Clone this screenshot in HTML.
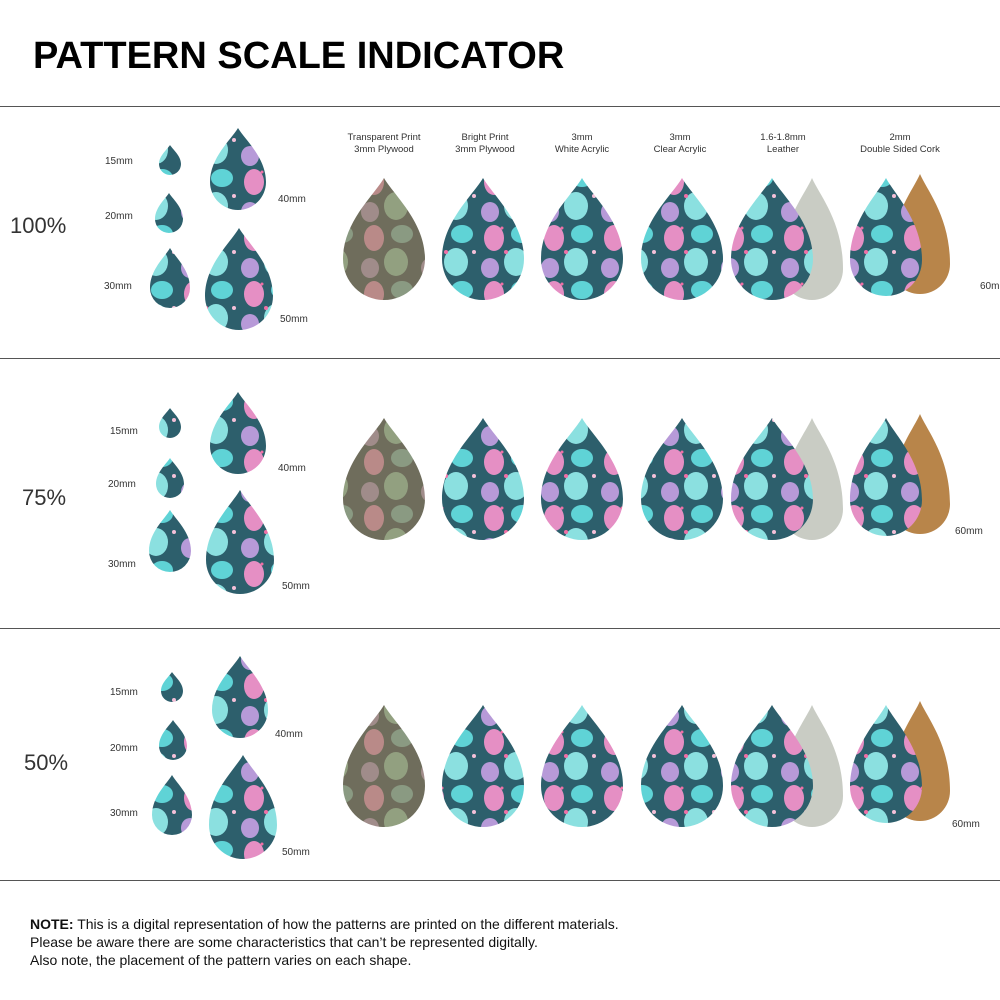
<!DOCTYPE html>
<html><head><meta charset="utf-8"><style>
body{margin:0;background:#fff;}
svg{display:block;font-family:"Liberation Sans",sans-serif;}
</style></head><body>
<svg id="s" width="1000" height="1000" viewBox="0 0 1000 1000" xmlns="http://www.w3.org/2000/svg">
<defs>
<pattern id="eg" patternUnits="userSpaceOnUse" width="60" height="56">
<rect width="60" height="56" fill="#2d5f6c"/>
<ellipse cx="14" cy="14" rx="10" ry="13" fill="#e58fc4"/>
<ellipse cx="42" cy="10" rx="11" ry="9" fill="#5fd3d6"/>
<ellipse cx="36" cy="38" rx="12" ry="14" fill="#8be0e0"/>
<ellipse cx="10" cy="44" rx="9" ry="10" fill="#b79ad8"/>
<circle cx="26" cy="28" r="2" fill="#f06fa6"/><circle cx="54" cy="28" r="2" fill="#f4c0d8"/>
<circle cx="22" cy="4" r="1.5" fill="#f06fa6"/>
</pattern>
<pattern id="wd" patternUnits="userSpaceOnUse" width="60" height="56">
<rect width="60" height="56" fill="#6f6d5c"/>
<ellipse cx="14" cy="14" rx="10" ry="13" fill="#b98a88"/>
<ellipse cx="42" cy="10" rx="11" ry="9" fill="#8a9a82"/>
<ellipse cx="36" cy="38" rx="12" ry="14" fill="#92a080"/>
<ellipse cx="10" cy="44" rx="9" ry="10" fill="#a08c8a"/>
</pattern>
</defs>
<text x="33" y="68" font-size="38" font-weight="bold" fill="#000">PATTERN SCALE INDICATOR</text>
<g stroke="#555" stroke-width="1">
<line x1="0" y1="106.5" x2="1000" y2="106.5"/><line x1="0" y1="358.5" x2="1000" y2="358.5"/>
<line x1="0" y1="628.5" x2="1000" y2="628.5"/><line x1="0" y1="880.5" x2="1000" y2="880.5"/>
</g>
<g font-size="22" fill="#333">
<text x="10" y="233">100%</text><text x="22" y="505">75%</text><text x="24" y="770">50%</text>
</g>
<g font-size="9.5" fill="#333" text-anchor="middle">
<text x="384" y="140">Transparent Print</text><text x="384" y="152">3mm Plywood</text>
<text x="485" y="140">Bright Print</text><text x="485" y="152">3mm Plywood</text>
<text x="582" y="140">3mm</text><text x="582" y="152">White Acrylic</text>
<text x="680" y="140">3mm</text><text x="680" y="152">Clear Acrylic</text>
<text x="783" y="140">1.6-1.8mm</text><text x="783" y="152">Leather</text>
<text x="900" y="140">2mm</text><text x="900" y="152">Double Sided Cork</text>
</g>
<g id="d"></g>
<g font-size="10" fill="#333">
<text x="105" y="164">15mm</text><text x="105" y="219">20mm</text><text x="104" y="289">30mm</text>
<text x="278" y="202">40mm</text><text x="280" y="322">50mm</text><text x="980" y="289">60mm</text>
<text x="110" y="434">15mm</text><text x="108" y="487">20mm</text><text x="108" y="567">30mm</text>
<text x="278" y="471">40mm</text><text x="282" y="589">50mm</text><text x="955" y="534">60mm</text>
<text x="110" y="695">15mm</text><text x="110" y="751">20mm</text><text x="110" y="816">30mm</text>
<text x="275" y="737">40mm</text><text x="282" y="855">50mm</text><text x="952" y="827">60mm</text>
</g>
<g font-size="14" fill="#111">
<text x="30" y="929"><tspan font-weight="bold">NOTE:</tspan> This is a digital representation of how the patterns are printed on the different materials.</text>
<text x="30" y="947">Please be aware there are some characteristics that can’t be represented digitally.</text>
<text x="30" y="965">Also note, the placement of the pattern varies on each shape.</text>
</g>
</svg>
<script>
var g=document.getElementById('d'),h='';
function drop(cx,top,w,hh,fill){
 var x=cx-w/2,r=w/2,by=top+hh-r;
 h+='<path d="M'+cx+' '+top+' C'+(cx+w*0.12)+' '+(top+hh*0.14)+' '+(x+w)+' '+(top+hh*0.36)+' '+(x+w)+' '+by+' A'+r+' '+r+' 0 0 1 '+x+' '+by+' C'+x+' '+(top+hh*0.36)+' '+(cx-w*0.12)+' '+(top+hh*0.14)+' '+cx+' '+top+' Z" fill="'+fill+'"/>';
}
var rows=[
 {t:178,smalls:[[170,145,22,30],[169,193,28,40],[170,248,40,60],[238,128,56,82],[239,228,68,102]]},
 {t:418,smalls:[[170,408,22,30],[170,458,28,40],[170,510,42,62],[238,392,56,82],[240,490,68,104]]},
 {t:705,smalls:[[172,672,22,30],[173,720,28,40],[172,775,40,60],[240,656,56,82],[243,755,68,104]]}];
rows.forEach(function(r){
 r.smalls.forEach(function(s){drop(s[0],s[1],s[2],s[3],'url(#eg)');});
 var t=r.t;
 drop(384,t,82,122,'url(#wd)');
 drop(483,t,82,122,'url(#eg)');
 drop(582,t,82,122,'url(#eg)');
 drop(682,t,82,122,'url(#eg)');
 drop(812,t,62,122,'#c9ccc4');
 drop(772,t,82,122,'url(#eg)');
 drop(920,t-4,60,120,'#b8854a');
 drop(886,t,72,118,'url(#eg)');
});
g.innerHTML=h;
</script>
</body></html>
